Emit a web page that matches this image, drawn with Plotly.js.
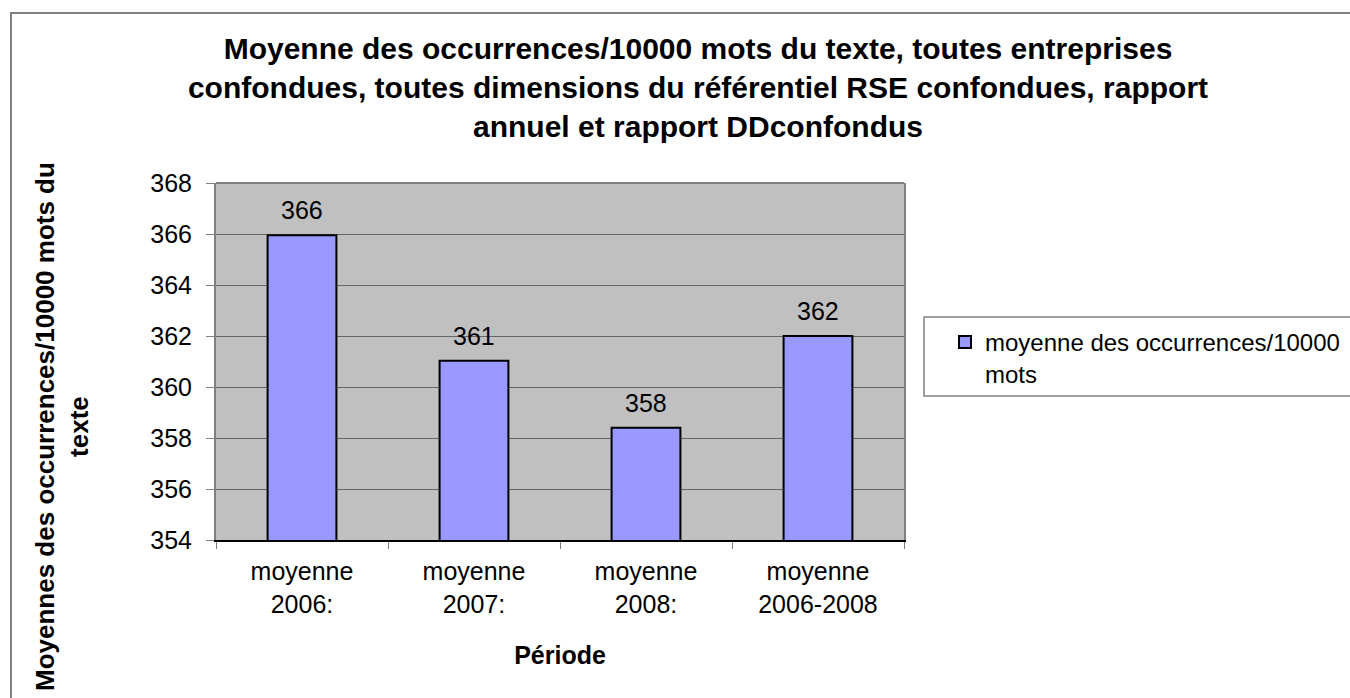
<!DOCTYPE html>
<html>
<head>
<meta charset="utf-8">
<script src="https://cdn.plot.ly/plotly-3.0.1.min.js"></script>
<style>
html,body{margin:0;padding:0;background:#fff;}
#chart{width:1350px;height:698px;}
</style>
</head>
<body>
<div id="chart"></div>
<script>
// ---- data ----
const categories = ["moyenne<br>2006:", "moyenne<br>2007:", "moyenne<br>2008:", "moyenne<br>2006-2008"];
const values = [365.95, 361.03, 358.4, 362.0];
const valueLabels = ["366", "361", "358", "362"];
const seriesName = "moyenne des occurrences/10000<br>mots";
const yTickValues = [354, 356, 358, 360, 362, 364, 366, 368];
const chartTitle = "Moyenne des occurrences/10000 mots du texte, toutes entreprises<br>confondues, toutes dimensions du référentiel RSE confondues, rapport<br>annuel et rapport DDconfondus";
const yTitle = "Moyennes des occurrences/10000 mots du<br>texte";
const xTitle = "Période";

const FONT = 'Arial, "Liberation Sans", sans-serif';

const trace = {
  type: 'bar',
  x: categories,
  y: values,
  name: seriesName,
  marker: {color: '#9999ff', line: {color: '#000000', width: 2}},
  hoverinfo: 'skip'
};

const labelAnnotations = categories.map((c, i) => ({
  x: c, y: values[i], xref: 'x', yref: 'y',
  text: valueLabels[i], showarrow: false,
  yanchor: 'bottom', xanchor: 'center', yshift: 9,
  font: {family: FONT, size: 25, color: '#000'}
}));

const layout = {
  width: 1350, height: 698,
  margin: {l: 216, r: 446, t: 183, b: 158, autoexpand: false},
  paper_bgcolor: '#ffffff',
  plot_bgcolor: '#c0c0c0',
  font: {family: FONT, color: '#000'},
  bargap: 0.6,
  showlegend: true,
  title: {
    text: chartTitle,
    xref: 'container', x: 698/1350, xanchor: 'center',
    yref: 'container', y: 1 - 59/698, yanchor: 'top',
    font: {family: FONT, size: 30, weight: 'bold', color: '#000'}
  },
  xaxis: {
    type: 'category',
    tickson: 'boundaries',
    ticks: 'outside', ticklen: 7, tickcolor: '#808080', tickwidth: 1,
    showline: true, linecolor: '#000000', linewidth: 2,
    showgrid: false,
    tickfont: {family: FONT, size: 25, color: '#000'},
    ticklabelstandoff: 8,
    title: {text: xTitle, standoff: 30, font: {family: FONT, size: 25, weight: 'bold', color: '#000'}},
    fixedrange: true
  },
  yaxis: {
    range: [354, 368],
    tickvals: yTickValues,
    ticktext: yTickValues.map(String),
    ticks: 'outside', ticklen: 8, tickcolor: '#808080', tickwidth: 1,
    showline: true, linecolor: '#808080', linewidth: 2, mirror: true,
    showgrid: true, gridcolor: '#666666', gridwidth: 1,
    zeroline: false,
    tickfont: {family: FONT, size: 25, color: '#000'},
    ticklabelstandoff: 9,
    fixedrange: true
  },
  legend: {
    x: (945 - 216) / 688, xanchor: 'left',
    y: (540 - 320) / 357, yanchor: 'top',
    bgcolor: 'rgba(0,0,0,0)', borderwidth: 0,
    valign: 'top',
    font: {family: FONT, size: 24, color: '#000'}
  },
  shapes: [
    // outer chart border
    {type: 'rect', xref: 'paper', yref: 'paper',
     x0: (11 - 216) / 688, x1: 1.8, y0: -0.8, y1: (540 - 13) / 357,
     line: {color: '#808080', width: 2}, fillcolor: 'rgba(0,0,0,0)', layer: 'below'},
    // legend box
    {type: 'rect', xref: 'paper', yref: 'paper',
     x0: (924 - 216) / 688, x1: 1.8, y0: (540 - 396) / 357, y1: (540 - 317) / 357,
     line: {color: '#808080', width: 1.5}, fillcolor: 'rgba(0,0,0,0)'},
    // top plot border
    {type: 'line', xref: 'x domain', yref: 'y domain', x0: 0, x1: 1, y0: 1, y1: 1,
     line: {color: '#808080', width: 2}}
  ],
  annotations: labelAnnotations.concat([
    {xref: 'paper', yref: 'paper', x: (62 - 216) / 688, y: (540 - 427) / 357,
     xanchor: 'center', yanchor: 'middle', textangle: -90, showarrow: false,
     text: yTitle,
     font: {family: FONT, size: 26, weight: 'bold', color: '#000'}}
  ])
};

Plotly.newPlot('chart', [trace], layout, {displayModeBar: false, staticPlot: true});
</script>
</body>
</html>
